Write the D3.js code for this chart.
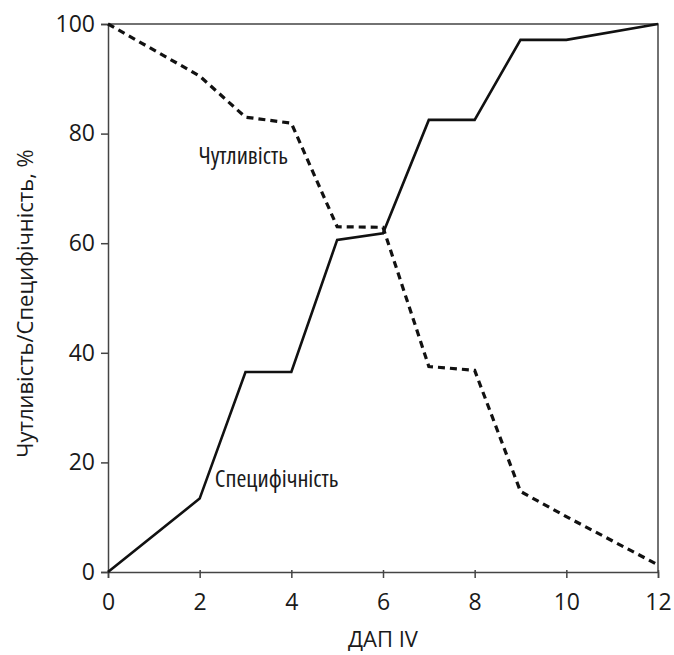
<!DOCTYPE html>
<html>
<head>
<meta charset="utf-8">
<script src="https://d3js.org/d3.v7.min.js"></script>
<style>
  body { margin: 0; background: #fff; }
  svg text { font-family: "Open Sans", "Noto Sans", sans-serif; fill: #1a1a1a; }
  .note { font-family: "Liberation Sans Narrow", "Open Sans", sans-serif; font-stretch: condensed; }
</style>
</head>
<body>
<div id="chart"></div>
<script>
'use strict';

// ДАП IV thresholds
var xValues = [0, 2, 3, 4, 5, 6, 7, 8, 9, 10, 12];
// specificity, % (solid line)
var specificity = [0, 13.4, 36.5, 36.5, 60.6, 61.8, 82.5, 82.5, 97.1, 97.1, 100];
// sensitivity, % (dashed line)
var sensitivity = [100, 90.5, 83.0, 81.9, 63.0, 62.9, 37.5, 36.8, 14.7, 10.1, 1.3];

var xTicks = [0, 2, 4, 6, 8, 10, 12];
var yTicks = [0, 20, 40, 60, 80, 100];

var w = 674, h = 655
  , margin = {top: 24, right: 16, bottom: 83, left: 108}
  , iw = w - margin.left - margin.right
  , ih = h - margin.top - margin.bottom;

var svg = d3.select('#chart').append('svg')
    .attr('width', w)
    .attr('height', h);

var g = svg.append('g')
    .attr('transform', 'translate(' + margin.left + ',' + margin.top + ')');

var x = d3.scaleLinear().domain([0, 12]).range([0, iw]);
var y = d3.scaleLinear().domain([0, 100]).range([ih, 0]);

// frame: top and right borders
g.append('path')
    .attr('d', 'M0,0H' + iw + 'V' + ih)
    .attr('fill', 'none')
    .attr('stroke', '#444')
    .attr('stroke-width', 1.5);

// axes
var xAxis = g.append('g')
    .attr('transform', 'translate(0,' + ih + ')')
    .call(d3.axisBottom(x).tickValues(xTicks).tickSize(6).tickPadding(10));
xAxis.selectAll('.tick line').attr('y1', -2);

var yAxis = g.append('g')
    .call(d3.axisLeft(y).tickValues(yTicks).tickSize(7).tickPadding(6));

[xAxis, yAxis].forEach(function (a) {
  a.select('.domain').attr('stroke', '#444').attr('stroke-width', 1.5);
  a.selectAll('.tick line').attr('stroke', '#444').attr('stroke-width', 1.5);
  a.selectAll('.tick text')
      .style('font-family', '"Open Sans", sans-serif')
      .style('font-size', '23px')
      .attr('fill', '#1a1a1a');
});
xAxis.selectAll('.tick text').attr('dy', '0.95em');

var line = function (vals) {
  return d3.line()
      .x(function (d) { return x(d); })
      .y(function (d, i) { return y(vals[i]); })(xValues);
};

g.append('path')
    .attr('d', line(specificity))
    .attr('fill', 'none')
    .attr('stroke', '#111')
    .attr('stroke-width', 2.6)
    .attr('stroke-linejoin', 'miter');

g.append('path')
    .attr('d', line(sensitivity))
    .attr('fill', 'none')
    .attr('stroke', '#111')
    .attr('stroke-width', 3.2)
    .attr('stroke-dasharray', '7,5');

// series labels
g.append('text')
    .attr('class', 'note')
    .attr('x', x(2.95))
    .attr('y', y(74.4))
    .attr('text-anchor', 'middle')
    .style('font-size', '24px')
    .text('Чутливість');

g.append('text')
    .attr('class', 'note')
    .attr('x', x(3.68))
    .attr('y', y(15.6))
    .attr('text-anchor', 'middle')
    .style('font-size', '24px')
    .text('Специфічність');

// axis titles
svg.append('text')
    .attr('x', margin.left + x(6))
    .attr('y', 647)
    .attr('text-anchor', 'middle')
    .style('font-size', '22px')
    .text('ДАП IV');

svg.append('text')
    .attr('transform', 'translate(33,' + (margin.top + y(49)) + ') rotate(-90)')
    .attr('text-anchor', 'middle')
    .style('font-size', '22px')
    .text('Чутливість/Специфічність, %');
</script>
</body>
</html>
